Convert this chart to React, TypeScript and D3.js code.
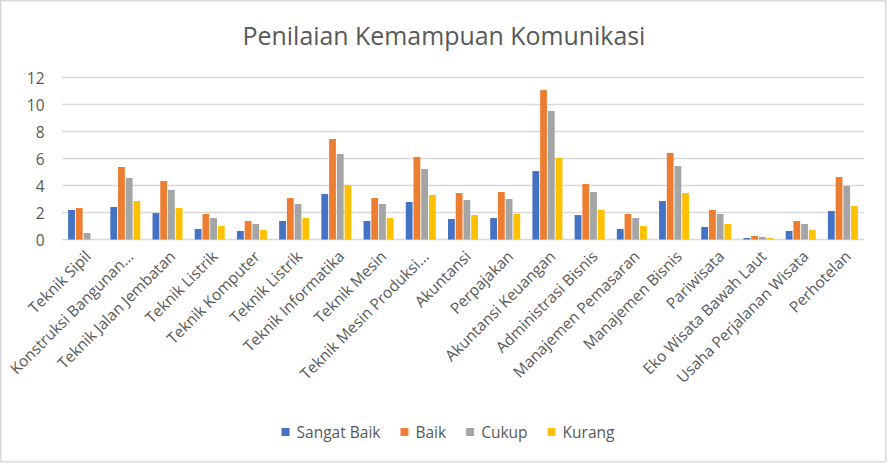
/**
 * Clustered column chart: "Penilaian Kemampuan Komunikasi" per program studi.
 * Four rating series drawn side by side in each category band.
 */
import * as d3 from 'd3';
import { useEffect, useRef } from 'react';

const CATEGORIES = [
  'Teknik Sipil',
  'Konstruksi Bangunan...',
  'Teknik Jalan Jembatan',
  'Teknik Listrik',
  'Teknik Komputer',
  'Teknik Listrik',
  'Teknik Informatika',
  'Teknik Mesin',
  'Teknik Mesin Produksi...',
  'Akuntansi',
  'Perpajakan',
  'Akuntansi Keuangan',
  'Administrasi Bisnis',
  'Manajemen Pemasaran',
  'Manajemen Bisnis',
  'Pariwisata',
  'Eko Wisata Bawah Laut',
  'Usaha Perjalanan Wisata',
  'Perhotelan',
];

const SERIES = ['Sangat Baik', 'Baik', 'Cukup', 'Kurang'];

const SANGAT_BAIK = [2.19, 2.41, 1.96, 0.78, 0.63, 1.37, 3.37, 1.37, 2.78, 1.52, 1.59, 5.07, 1.81, 0.78, 2.85, 0.93, 0.11, 0.63, 2.11];
const BAIK = [2.33, 5.37, 4.33, 1.89, 1.37, 3.07, 7.44, 3.07, 6.11, 3.44, 3.52, 11.07, 4.11, 1.89, 6.41, 2.19, 0.26, 1.37, 4.63];
const CUKUP = [0.48, 4.56, 3.67, 1.59, 1.15, 2.63, 6.33, 2.63, 5.22, 2.93, 3.0, 9.52, 3.52, 1.59, 5.44, 1.89, 0.19, 1.15, 3.96];
const KURANG = [0, 2.85, 2.33, 1.0, 0.7, 1.59, 4.04, 1.59, 3.3, 1.81, 1.89, 6.04, 2.19, 1.0, 3.44, 1.15, 0.11, 0.7, 2.48];

const Y_TICKS = [0, 2, 4, 6, 8, 10, 12];
const COLORS = ['#4472C4', '#ED7D31', '#A5A5A5', '#FFC000'];

const W = 888;
const H = 464;
const PLOT = { left: 62, right: 864, top: 77.5, bottom: 239.5 };
const FONT = '"Open Sans", "Noto Sans", sans-serif';
const TEXT = '#595959';
const GRID = '#D9D9D9';

export default function App() {
  const svgRef = useRef<SVGSVGElement>(null);

  useEffect(() => {
    if (!svgRef.current) return;
    const svg = d3.select(svgRef.current);
    svg.selectAll('*').remove();

    const values = [SANGAT_BAIK, BAIK, CUKUP, KURANG];

    // chart frame
    svg.append('rect')
      .attr('x', 0.75).attr('y', 0.75)
      .attr('width', 885).attr('height', 461)
      .attr('fill', '#fff')
      .attr('stroke', GRID)
      .attr('stroke-width', 1.5);

    svg.append('text')
      .attr('x', 444)
      .attr('y', 45)
      .attr('text-anchor', 'middle')
      .attr('font-family', FONT)
      .attr('font-size', 24.9)
      .attr('fill', TEXT)
      .text('Penilaian Kemampuan Komunikasi');

    const x = d3.scaleBand<number>()
      .domain(d3.range(CATEGORIES.length))
      .range([PLOT.left, PLOT.right])
      .padding(0);

    const inner = d3.scaleBand<number>()
      .domain(d3.range(SERIES.length))
      .range([6.1, x.bandwidth() - 6.1])
      .paddingInner(0.12);

    const y = d3.scaleLinear().domain([0, 12]).range([PLOT.bottom, PLOT.top]);

    // gridlines + y labels
    Y_TICKS.forEach(t => {
      svg.append('line')
        .attr('x1', PLOT.left).attr('x2', PLOT.right)
        .attr('y1', y(t)).attr('y2', y(t))
        .attr('stroke', GRID)
        .attr('stroke-width', 1.5);
      svg.append('text')
        .attr('x', 44.5)
        .attr('y', y(t))
        .attr('text-anchor', 'end')
        .attr('dominant-baseline', 'central')
        .attr('font-family', FONT)
        .attr('font-size', 15.5)
        .attr('fill', TEXT)
        .text(t);
    });

    // bars
    values.forEach((vals, s) => {
      svg.append('g')
        .selectAll('rect')
        .data(vals)
        .join('rect')
        .attr('x', (_, i) => (x(i) ?? 0) + (inner(s) ?? 0))
        .attr('y', d => y(d))
        .attr('width', inner.bandwidth())
        .attr('height', d => y(0) - y(d))
        .attr('fill', COLORS[s]);
    });

    // category labels, rotated -45°
    CATEGORIES.forEach((c, i) => {
      const cx = (x(i) ?? 0) + x.bandwidth() / 2;
      svg.append('text')
        .attr('transform', `translate(${cx + 9},${PLOT.bottom + 18}) rotate(-45)`)
        .attr('text-anchor', 'end')
        .attr('font-family', FONT)
        .attr('font-size', 15.5)
        .attr('fill', TEXT)
        .text(c);
    });

    // legend
    const legend = svg.append('g');
    let lx = 0;
    SERIES.forEach((name, s) => {
      const g = legend.append('g').attr('transform', `translate(${lx},0)`);
      g.append('rect')
        .attr('x', 0).attr('y', -4)
        .attr('width', 8).attr('height', 8)
        .attr('fill', COLORS[s]);
      const t = g.append('text')
        .attr('x', 15)
        .attr('y', 0)
        .attr('dominant-baseline', 'central')
        .attr('font-family', FONT)
        .attr('font-size', 15.5)
        .attr('fill', TEXT)
        .text(name);
      const tw = (t.node() as SVGTextElement).getComputedTextLength();
      lx += 15 + tw + 20;
    });
    const totalW = lx - 20;
    legend.attr('transform', `translate(${448 - totalW / 2},432)`);
  }, []);

  return (
    <svg
      ref={svgRef}
      width={W}
      height={H}
      style={{ position: 'absolute', left: 0, top: 0, background: '#fff' }}
    />
  );
}
